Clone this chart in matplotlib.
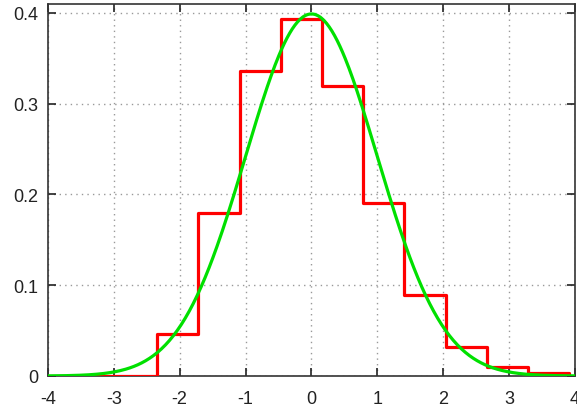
import numpy as np
import matplotlib
matplotlib.use('Agg')
from matplotlib import pyplot as plt
from matplotlib.ticker import FormatStrFormatter

plt.rcParams['font.family'] = ['Liberation Sans', 'DejaVu Sans']
plt.rcParams['axes.unicode_minus'] = False

# histogram bin edges and densities
bin_edges = [-2.34, -1.715, -1.09, -0.465, 0.16, 0.785, 1.41, 2.035, 2.66, 3.285, 3.91]
densities = [0.046, 0.180, 0.336, 0.393, 0.320, 0.191, 0.089, 0.032, 0.010, 0.003]

x_ticks = [-4, -3, -2, -1, 0, 1, 2, 3, 4]
y_ticks = [0, 0.1, 0.2, 0.3, 0.4]

fig = plt.figure(figsize=(5.77, 4.10), dpi=100)
ax = fig.add_axes([0.083, 0.0805, 0.9135, 0.9075])

sx = np.concatenate([[-4], bin_edges])
sy = np.concatenate([[0], densities, [0]])
ax.step(sx, sy, where='post', color='#ff0000', lw=2.3, zorder=3)

x = np.linspace(-4, 4, 400)
pdf = np.exp(-x ** 2 / 2) / np.sqrt(2 * np.pi)
ax.plot(x, pdf, color='#00e000', lw=2.3, zorder=4)

ax.set_xlim(-4, 4)
ax.set_ylim(0, 0.41)
ax.set_xticks(x_ticks)
ax.set_yticks(y_ticks)
ax.yaxis.set_major_formatter(FormatStrFormatter('%g'))
ax.grid(True, color='#999999', linestyle=(0, (1, 3)), lw=1)
ax.tick_params(direction='in', top=True, right=True, length=6, width=1.2,
               labelsize=13, colors='#222222')
ax.tick_params(axis='x', pad=10)
ax.tick_params(axis='y', pad=7)
for s in ax.spines.values():
    s.set_color('#333333')
    s.set_linewidth(1.2)

fig.savefig('out.png', dpi=100)
